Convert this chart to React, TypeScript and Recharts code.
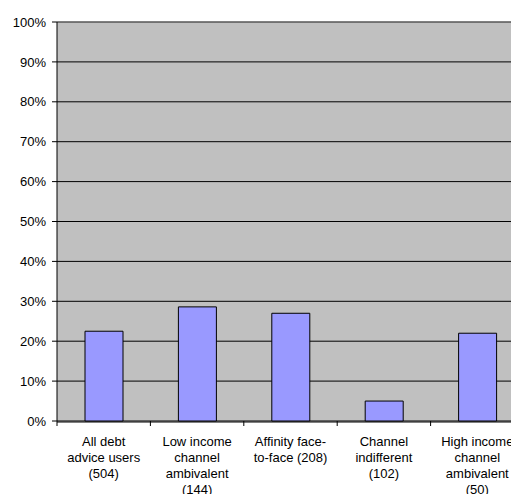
import React from "react";
import { BarChart, Bar, XAxis, YAxis, CartesianGrid, ReferenceLine } from "recharts";

const categories: string[][] = [
  ["All debt", "advice users", "(504)"],
  ["Low income", "channel", "ambivalent", "(144)"],
  ["Affinity face-", "to-face (208)"],
  ["Channel", "indifferent", "(102)"],
  ["High income", "channel", "ambivalent", "(50)"],
];
const values: number[] = [22.5, 28.6, 27.0, 5.0, 22.0];
const yTicks: number[] = [0, 10, 20, 30, 40, 50, 60, 70, 80, 90, 100];
const boundaryTicks: number[] = [0, 1, 2, 3, 4, 5];

const data = categories.map((c, i) => ({ key: c.join(" "), idx: i, value: values[i] }));

const FONT = "'Liberation Sans', Arial, sans-serif";

const CatTick = (props: any) => {
  const { x, y, payload } = props;
  const lines = categories[payload.index] || [];
  return (
    <text x={x} y={y} textAnchor="middle" fontFamily={FONT} fontSize={13} fill="#000">
      {lines.map((l, i) => (
        <tspan key={i} x={x} dy={i === 0 ? 24 : 16}>
          {l}
        </tspan>
      ))}
    </text>
  );
};

export default function App() {
  return (
    <div style={{ position: "fixed", left: 0, top: 0, width: 511, height: 494, overflow: "hidden", background: "#fff" }}>
      <BarChart
        width={530}
        height={494}
        data={data}
        margin={{ top: 22, right: 6, bottom: 0, left: 0 }}
        barSize={38}
      >
        <CartesianGrid vertical={false} stroke="#000" fill="#C0C0C0" strokeOpacity={1} />
        <ReferenceLine y={100} stroke="#808080" strokeWidth={1} />
        <XAxis
          xAxisId="cat"
          dataKey="key"
          tickLine={false}
          tickSize={0}
          tickMargin={0}
          axisLine={{ stroke: "#000" }}
          height={72}
          interval={0}
          tick={<CatTick />}
        />
        <XAxis
          xAxisId="a"
          type="number"
          dataKey="idx"
          domain={[0, 5]}
          ticks={boundaryTicks}
          interval={0}
          tick={() => <g />}
          axisLine={false}
          tickLine={{ stroke: "#000" }}
          tickSize={5}
          height={1}
          allowDataOverflow
        />
        <YAxis
          domain={[0, 100]}
          ticks={yTicks}
          interval={0}
          width={57}
          tickSize={5}
          tickMargin={6}
          axisLine={{ stroke: "#000" }}
          tickLine={{ stroke: "#000" }}
          tickFormatter={(v: number) => `${v}%`}
          tick={{ fontFamily: FONT, fontSize: 13, fill: "#000" }}
        />
        <Bar xAxisId="cat" dataKey="value" fill="#9999FF" stroke="#000" strokeWidth={1} isAnimationActive={false} />
      </BarChart>
    </div>
  );
}
